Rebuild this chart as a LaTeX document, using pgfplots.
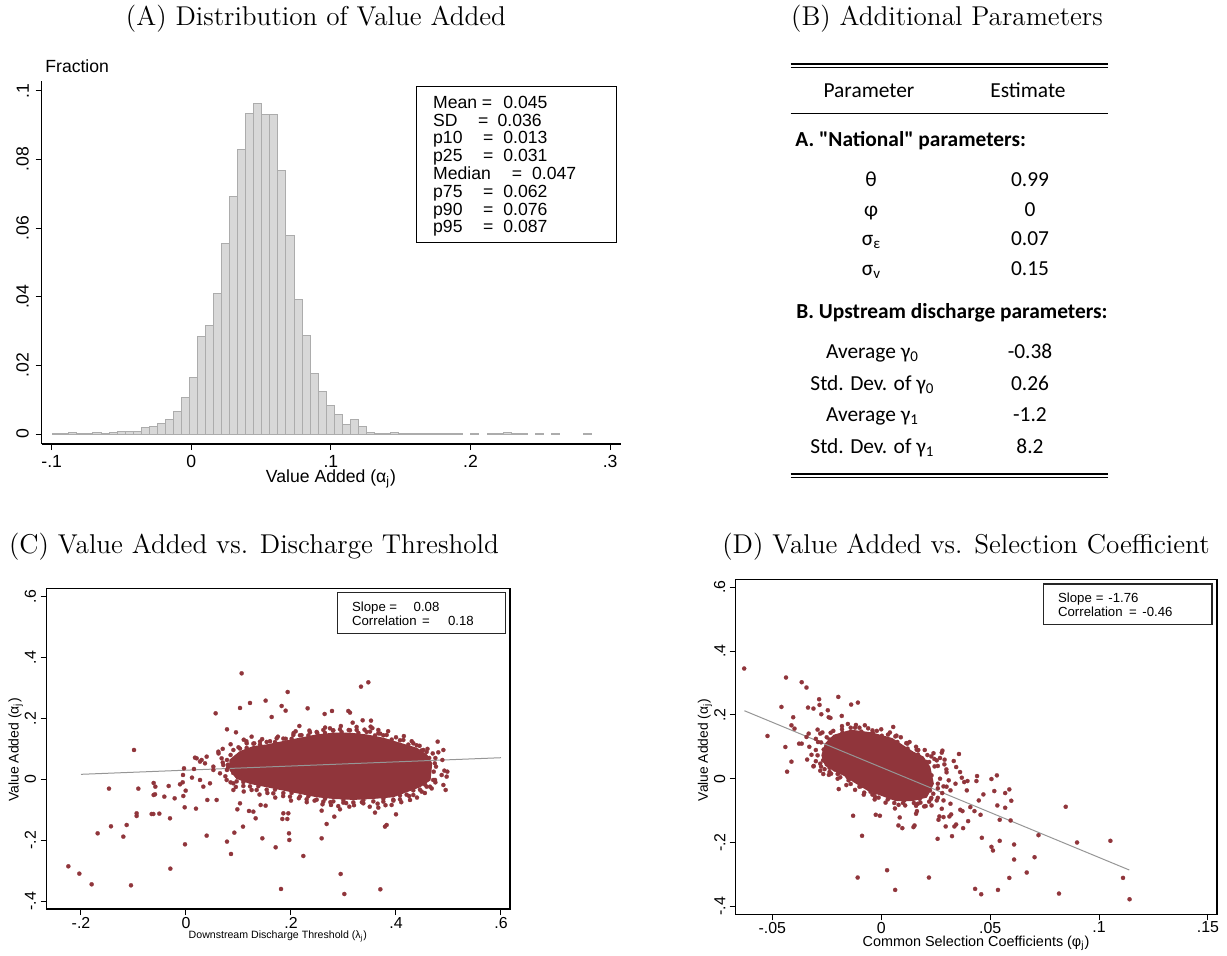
\documentclass[border=0pt]{standalone}
\usepackage{fontspec}
\usepackage{pgfplots}
\pgfplotsset{compat=1.18}
\newfontfamily\arial{Liberation Sans}
\newfontfamily\calibri{Carlito}
\definecolor{cranberry}{RGB}{144,53,59}
\definecolor{histfill}{RGB}{216,216,216}
\definecolor{histline}{RGB}{172,172,172}
\definecolor{fitgray}{RGB}{150,150,150}
\newcommand\tsub[1]{\raisebox{-0.3ex}{\fontsize{7.5}{8}\selectfont #1}}
\pgfplotsset{dots/.style={cranberry, only marks, mark=*, mark size=1.05pt,
  mark options={solid, fill=cranberry, draw=cranberry, line width=0.1pt}}}
\begin{document}
\begin{tikzpicture}
\begin{scope}[x=0.5pt,y=-0.5pt]
\path[use as bounding box] (0,0) rectangle (1227,955);
\end{scope}

% ---------------- Panel A ----------------
\begin{axis}[at={(20.85pt,-222pt)}, anchor=south west, scale only axis,
  width=289.5pt, height=181.65pt,
  xmin=-0.10716, xmax=0.30759, ymin=-0.002913, ymax=0.10291,
  axis x line*=bottom, axis y line*=left,
  axis line style={black, line width=0.6pt, -},
  tick align=outside, major tick length=3pt, tick style={black, line width=0.5pt},
  xtick={-0.1,0,0.1,0.2,0.3}, xticklabels={-.1,0,.1,.2,.3},
  ytick={0,0.02,0.04,0.06,0.08,0.1}, yticklabels={0,.02,.04,.06,.08,.1},
  tick label style={font=\arial\fontsize{8.8}{9}\selectfont, inner sep=0pt},
  xticklabel style={anchor=north, yshift=-2.5pt},
  yticklabel style={xshift=-3.2pt, rotate=90, anchor=south},
]
\addplot[ybar, bar width=0.00576, fill=histfill, draw=histline, line width=0.5pt] coordinates {
(-0.09634,0.0001) (-0.09058,0.0001) (-0.08482,0.0003) (-0.07906,0.0001) (-0.07330,0.0001)
(-0.06754,0.0003) (-0.06178,0.0001) (-0.05602,0.0003) (-0.05026,0.0008) (-0.04450,0.0008)
(-0.03874,0.0008) (-0.03298,0.0018) (-0.02722,0.0022) (-0.02146,0.0031) (-0.01570,0.0043)
(-0.00994,0.0066) (-0.00418,0.0107) (0.00158,0.0165) (0.00734,0.0283) (0.01310,0.0315)
(0.01886,0.0410) (0.02462,0.0555) (0.03038,0.0693) (0.03614,0.0830) (0.04190,0.0934)
(0.04766,0.0963) (0.05342,0.0931) (0.05918,0.0931) (0.06494,0.0768) (0.07070,0.0579)
(0.07646,0.0393) (0.08222,0.0288) (0.08798,0.0177) (0.09374,0.0124) (0.09950,0.0083)
(0.10526,0.0057) (0.11102,0.0028) (0.11678,0.0041) (0.12254,0.0021) (0.12830,0.0004)
(0.13406,0.0002) (0.13982,0.0002) (0.14558,0.0004) (0.15134,0.0002) (0.15710,0.0001)
(0.16286,0.0002) (0.16862,0.0001) (0.17438,0.0001) (0.18014,0.0001) (0.18590,0.0001)
(0.19166,0.0001) (0.20318,0.0001) (0.21470,0.0001) (0.22046,0.0001) (0.22622,0.0003)
(0.23198,0.0001) (0.23774,0.0001) (0.24926,0.0001) (0.26078,0.0001) (0.28382,0.0001)
};
\end{axis}

% ---------------- Panel C ----------------
\begin{axis}[at={(23.35pt,-454.5pt)}, anchor=south west, scale only axis,
  width=231.65pt, height=160.35pt,
  xmin=-0.26533, xmax=0.61714, ymin=-0.42581, ymax=0.62705,
  axis line style={black, line width=0.65pt},
  tick pos=left, tick align=outside, major tick length=3pt, tick style={black, line width=0.5pt},
  xtick={-0.2,0,0.2,0.4,0.6}, xticklabels={-.2,0,.2,.4,.6},
  ytick={-0.4,-0.2,0,0.2,0.4,0.6}, yticklabels={-.4,-.2,0,.2,.4,.6},
  tick label style={font=\arial\fontsize{7.95}{8}\selectfont, inner sep=0pt},
  xticklabel style={anchor=north, yshift=-1pt},
  yticklabel style={xshift=-2.15pt, rotate=90, anchor=south},
]
\addplot[fill=cranberry, draw=cranberry, line width=0.6pt] coordinates {
(0.0838,0.0635) (0.1029,0.0908) (0.1283,0.1072) (0.1537,0.1127) (0.1854,0.1237)
(0.2171,0.1346) (0.2489,0.1455) (0.2806,0.1510) (0.3124,0.1510) (0.3441,0.1455)
(0.3759,0.1346) (0.4076,0.1182) (0.4394,0.1018) (0.4584,0.0799) (0.4679,0.0525)
(0.4648,-0.0022) (0.4457,-0.0241) (0.4203,-0.0405) (0.3949,-0.0569) (0.3568,-0.0624)
(0.3187,-0.0657) (0.2806,-0.0624) (0.2489,-0.0569) (0.2171,-0.0460) (0.1854,-0.0350)
(0.1537,-0.0241) (0.1219,-0.0131) (0.0965,0.0033) (0.0838,0.0306)
} --cycle;
\addplot[dots] coordinates {
(-0.0990,0.0963) (-0.1467,-0.0306) (-0.0908,-0.0306) (-0.0616,-0.0120) (-0.0584,-0.0241)
(-0.0616,-0.0514) (-0.0590,-0.0492) (-0.0330,-0.0219) (-0.0413,-0.0569) (-0.0216,-0.0624)
(-0.0114,-0.0164) (-0.0063,-0.0098) (-0.0038,0.0361) (-0.0057,0.0142) (-0.0051,-0.0547)
(-0.0025,-0.0919) (-0.0006,-0.0372) (-0.0940,-0.1116) (-0.0940,-0.1204) (-0.0654,-0.1138)
(-0.0622,-0.1138) (-0.0508,-0.1127) (-0.0305,-0.1280) (-0.1429,-0.1543) (-0.1130,-0.1499)
(-0.1683,-0.1773) (-0.1194,-0.1882) (-0.0019,-0.2134) (-0.0298,-0.2933) (-0.2241,-0.2856)
(-0.2032,-0.3097) (-0.1797,-0.3447) (-0.1048,-0.3480) (0.0114,0.0055) (0.0171,0.0711)
(0.0203,0.0689) (0.0152,0.0339)
(0.1060,0.3480) (0.3333,0.3042) (0.3473,0.3185) (0.1937,0.2867) (0.1517,0.2583)
(0.1219,0.2506) (0.1029,0.2342) (0.1822,0.2408) (0.1898,0.2254) (0.2317,0.2331)
(0.0565,0.2167) (0.1632,0.2046) (0.2641,0.2145) (0.2781,0.2243) (0.3092,0.2243)
(0.3124,0.2189) (0.3365,0.1937) (0.3524,0.1926) (0.3175,0.1860) (0.3663,0.1620)
(0.3663,0.1510) (0.3517,0.1729) (0.2159,0.1751) (0.2089,0.1576) (0.0781,0.1642)
(0.0952,0.1543) (0.2743,0.1674) (0.4794,0.1237) (0.4902,0.0963) (0.4806,0.0886)
(0.4883,0.0635) (0.4762,0.0416) (0.4921,0.0285) (0.4978,0.0252) (0.4965,0.0088)
(0.4870,0.0142) (0.4902,-0.0186) (0.4946,-0.0350) (0.4743,-0.0022) (0.4648,-0.0241)
(0.4489,-0.0405) (0.4267,-0.0678) (0.4000,-0.1149) (0.3917,-0.0843) (0.3822,-0.1499)
(0.3790,-0.1554) (0.3663,-0.0930) (0.3600,-0.1094) (0.2933,-0.0985) (0.2825,-0.1226)
(0.3111,-0.0897) (0.2762,-0.0843) (0.2584,-0.1029) (0.2679,-0.1466) (0.2584,-0.1937)
(0.2235,-0.2517) (0.1962,-0.1773) (0.1968,-0.1992) (0.1854,-0.1116) (0.1949,-0.1116)
(0.1835,-0.1302) (0.1930,-0.1302) (0.1708,-0.2232) (0.1454,-0.1937) (0.1422,-0.0843)
(0.1517,-0.0865) (0.1283,-0.1062) (0.1327,-0.1280) (0.1200,-0.1040) (0.1086,-0.1554)
(0.0978,-0.0985) (0.0921,-0.1751) (0.0857,-0.2451) (0.0781,-0.2046) (0.0394,-0.1849)
(0.0190,-0.0963) (0.0406,-0.0678) (0.0584,-0.0678) (0.1810,-0.3600) (0.2946,-0.3108)
(0.3016,-0.3765) (0.3702,-0.3611) (0.1029,-0.0788) (0.0902,-0.0350) (0.0775,-0.0022)
(0.0648,0.0197) (0.0521,0.0306) (0.0362,0.0525) (0.0298,0.0635) (0.0457,-0.0131)
(0.0330,-0.0241) (0.0267,-0.0022) (0.0679,0.0689) (0.0711,0.0470) (0.0267,0.0580)
(0.0394,0.0744) (0.0521,0.0416) (0.0616,0.0908) (0.1100,0.1300) (0.1250,0.1400)
(0.0850,0.1150) (0.0700,0.1000) (0.0620,0.0850)
(0.0902,0.0963) (0.1156,0.1182) (0.1410,0.1237) (0.1727,0.1346) (0.2044,0.1455)
(0.2362,0.1543) (0.2616,0.1620) (0.2933,0.1642) (0.3251,0.1620) (0.3505,0.1565)
(0.3822,0.1455) (0.4140,0.1291) (0.4330,0.1182) (0.4521,0.0963)
(0.4584,-0.0241) (0.4330,-0.0514) (0.4076,-0.0657) (0.3759,-0.0733) (0.3378,-0.0788)
(0.2997,-0.0766) (0.2616,-0.0733) (0.2298,-0.0657) (0.1981,-0.0569) (0.1663,-0.0460)
(0.1346,-0.0350) (0.1092,-0.0219) (0.0902,-0.0131)
(0.100,0.105) (0.115,0.125) (0.130,0.118) (0.145,0.132) (0.160,0.125) (0.175,0.140)
(0.190,0.133) (0.205,0.152) (0.220,0.145) (0.235,0.160) (0.250,0.152) (0.265,0.170)
(0.280,0.160) (0.295,0.175) (0.310,0.162) (0.325,0.172) (0.340,0.163) (0.355,0.168)
(0.370,0.150) (0.385,0.158) (0.400,0.138) (0.415,0.142) (0.430,0.125) (0.445,0.110)
(0.460,0.100) (0.470,0.085) (0.475,0.070)
(0.475,-0.010) (0.468,-0.030) (0.455,-0.045) (0.440,-0.060) (0.425,-0.055) (0.410,-0.075)
(0.395,-0.070) (0.380,-0.085) (0.365,-0.080) (0.350,-0.090) (0.335,-0.075) (0.320,-0.085)
(0.305,-0.078) (0.290,-0.088) (0.275,-0.075) (0.260,-0.082) (0.245,-0.070) (0.230,-0.075)
(0.215,-0.062) (0.200,-0.070) (0.185,-0.055) (0.170,-0.060) (0.155,-0.045) (0.140,-0.050)
(0.125,-0.035) (0.110,-0.040) (0.095,-0.025) (0.085,-0.010) (0.075,0.010) (0.080,0.040)
(0.070,0.055) (0.085,0.080) (0.090,0.060)
(0.1029,0.1008) (0.1283,0.1172) (0.1537,0.1227) (0.1854,0.1337) (0.2171,0.1446)
(0.2489,0.1555) (0.2806,0.1610) (0.3124,0.1610) (0.3441,0.1555) (0.3759,0.1446)
(0.4076,0.1282) (0.4394,0.1118) (0.4584,0.0899) (0.4739,0.0525) (0.4718,0.0250)
(0.4708,-0.0022) (0.4457,-0.0341) (0.4203,-0.0505) (0.3949,-0.0669) (0.3568,-0.0724)
(0.3187,-0.0757) (0.2806,-0.0724) (0.2489,-0.0669) (0.2171,-0.0560) (0.1854,-0.0450)
(0.1537,-0.0341) (0.1219,-0.0231) (0.0965,-0.0067) (0.0780,0.0306) (0.0780,0.0635)
(0.0800,0.0480)
(0.1156,0.1030) (0.1410,0.1140) (0.1695,0.1222) (0.2012,0.1331) (0.2330,0.1441)
(0.2647,0.1523) (0.2965,0.1550) (0.3283,0.1523) (0.3600,0.1441) (0.3918,0.1304)
(0.4235,0.1140) (0.4489,0.0948) (0.4632,0.0702)
(0.4553,-0.0171) (0.4330,-0.0363) (0.4076,-0.0527) (0.3759,-0.0637) (0.3378,-0.0681)
(0.2997,-0.0681) (0.2648,-0.0637) (0.2330,-0.0555) (0.2012,-0.0445) (0.1696,-0.0336)
(0.1378,-0.0226) (0.1092,-0.0089) (0.0900,0.0210)
};
\addplot[fitgray, line width=0.5pt] coordinates {(-0.2,0.0164) (0.6,0.0709)};
\end{axis}

% ---------------- Panel D ----------------
\begin{axis}[at={(367.85pt,-457.15pt)}, anchor=south west, scale only axis,
  width=240.65pt, height=167.5pt,
  xmin=-0.06679, xmax=0.15414, ymin=-0.42521, ymax=0.62527,
  axis line style={black, line width=0.65pt},
  tick pos=left, tick align=outside, major tick length=3pt, tick style={black, line width=0.5pt},
  xtick={-0.05,0,0.05,0.1,0.15}, xticklabels={-.05,0,.05,.1,.15},
  ytick={-0.4,-0.2,0,0.2,0.4,0.6}, yticklabels={-.4,-.2,0,.2,.4,.6},
  tick label style={font=\arial\fontsize{7.95}{8}\selectfont, inner sep=0pt},
  xticklabel style={anchor=north, yshift=-0.65pt},
  yticklabel style={xshift=-2pt, rotate=90, anchor=south},
]
\addplot[fill=cranberry, draw=cranberry, line width=0.6pt] coordinates {
(-0.0256,0.1099) (-0.0217,0.1361) (-0.0138,0.1518) (-0.0044,0.1435) (0.0050,0.1257)
(0.0097,0.1047) (0.0145,0.0838) (0.0192,0.0681) (0.0223,0.0366) (0.0239,-0.0157)
(0.0208,-0.0576) (0.0145,-0.0681) (0.0066,-0.0681) (0.0003,-0.0524) (-0.0060,-0.0366)
(-0.0123,-0.0105) (-0.0170,0.0105) (-0.0217,0.0262) (-0.0256,0.0419) (-0.0272,0.0733)
} --cycle;
\addplot[dots] coordinates {
(-0.0629,0.3455) (-0.0437,0.3173) (-0.0365,0.3026) (-0.0343,0.2859) (-0.0458,0.2251)
(-0.0522,0.1340) (-0.0404,0.1927) (-0.0440,0.0995) (-0.0412,0.0534) (-0.0432,0.0220)
(-0.0336,0.2230) (-0.0311,0.2199) (-0.0285,0.2492) (-0.0283,0.2314) (-0.0275,0.2021)
(-0.0245,0.2147) (-0.0241,0.1927) (-0.0233,0.1906) (-0.0197,0.2565) (-0.0181,0.1969)
(-0.0153,0.1717) (-0.0138,0.2325) (-0.0107,0.2387) (-0.0116,0.1686) (-0.0075,0.1675)
(-0.0039,0.1445) (0.0055,0.1623) (0.0031,0.1382) (-0.0398,0.1571) (-0.0412,0.1675)
(-0.0377,0.1099) (-0.0365,0.1099) (-0.0343,0.1309) (-0.0333,0.1414) (-0.0292,0.1539)
(-0.0280,0.1414) (-0.0311,0.0387) (-0.0280,0.0471) (-0.0266,0.0147) (-0.0230,0.0157)
(-0.0214,0.0293) (-0.0195,-0.0325) (-0.0129,-0.1162) (-0.0025,-0.1131) (-0.0006,-0.1162)
(-0.0088,-0.1791) (-0.0108,-0.3099) (0.0027,-0.2869) (0.0064,-0.3487) (0.0063,-0.0932)
(0.0085,-0.1215) (0.0079,-0.1466) (0.0097,-0.1550) (0.0153,-0.1466) (0.0148,-0.1518)
(0.0160,-0.1099) (0.0164,-0.1016) (0.0197,-0.0869) (0.0204,-0.0859) (0.0219,-0.3099)
(0.0259,-0.1885) (0.0263,-0.1288) (0.0267,-0.1183) (0.0278,-0.0942) (0.0286,-0.1204)
(0.0313,-0.1183) (0.0321,-0.1120) (0.0325,-0.1801) (0.0336,-0.1497) (0.0344,-0.1435)
(0.0296,-0.1497) (0.0376,-0.1550) (0.0363,-0.0974) (0.0373,-0.1016) (0.0399,-0.1330)
(0.0409,-0.0890) (0.0428,-0.1016) (0.0456,-0.1131) (0.0448,-0.0681) (0.0469,-0.0492)
(0.0506,-0.0010) (0.0531,0.0105) (0.0519,-0.0387) (0.0533,-0.0838) (0.0544,-0.1288)
(0.0569,-0.0450) (0.0588,-0.0335) (0.0597,-0.0691) (0.0594,-0.1309) (0.0569,-0.0911)
(0.0462,-0.1853) (0.0506,-0.2136) (0.0513,-0.2251) (0.0544,-0.1948) (0.0610,-0.2063)
(0.0610,-0.2534) (0.0588,-0.3110) (0.0668,-0.2942) (0.0704,-0.2461) (0.0722,-0.1770)
(0.0847,-0.0880) (0.0899,-0.2000) (0.1052,-0.1948) (0.1110,-0.3110) (0.1140,-0.3780)
(0.0816,-0.3602) (0.0536,-0.3487) (0.0459,-0.3623) (0.0431,-0.3455)
(0.0220,0.0524) (0.0204,0.0387) (0.0244,0.0618) (0.0255,0.0576) (0.0281,0.0880)
(0.0278,0.0817) (0.0291,0.0597) (0.0299,0.0293) (0.0333,0.0555) (0.0357,0.0775)
(0.0344,0.0366) (0.0362,0.0209) (0.0370,0.0031) (0.0381,-0.0105) (0.0396,-0.0073)
(0.0440,0.0084) (0.0437,-0.0073) (0.0393,-0.0366) (0.0341,-0.0157) (0.0318,-0.0366)
(0.0286,-0.0241) (0.0255,-0.0681) (0.0239,-0.0471) (0.0286,-0.0681) (0.0318,-0.0785)
(0.0231,-0.0838) (0.0168,-0.0785) (0.0110,-0.0838) (0.0022,-0.0157) (-0.0049,-0.0408)
(-0.0028,-0.0576) (-0.0154,0.0052) (-0.0267,0.0576) (-0.0248,0.0681)
(-0.0300,0.0900) (-0.0290,0.1150) (-0.0250,0.1300) (-0.0180,0.1550) (-0.0100,0.1600)
(-0.0020,0.1500) (0.0070,0.1350) (0.0120,0.1100) (0.0170,0.0900) (0.0230,0.0700)
(0.0260,0.0400) (0.0270,0.0000) (0.0260,-0.0300) (0.0230,-0.0600) (0.0180,-0.0750)
(0.0100,-0.0760) (0.0030,-0.0650) (-0.0040,-0.0500) (-0.0100,-0.0250) (-0.0150,-0.0050)
(-0.0200,0.0150) (-0.0260,0.0300) (-0.0300,0.0550)
(-0.032,0.075) (-0.033,0.100) (-0.030,0.125) (-0.027,0.145) (-0.022,0.150) (-0.018,0.165)
(-0.012,0.160) (-0.006,0.158) (0.000,0.155) (0.004,0.145) (0.009,0.130) (0.013,0.115)
(0.016,0.100) (0.020,0.090) (0.024,0.080) (0.027,0.065) (0.029,0.045) (0.030,0.020)
(0.031,-0.005) (0.030,-0.025) (0.028,-0.045) (0.026,-0.060) (0.022,-0.072) (0.016,-0.085)
(0.008,-0.082) (0.002,-0.075) (-0.003,-0.065) (-0.008,-0.050) (-0.012,-0.035) (-0.016,-0.020)
(-0.020,0.000) (-0.024,0.012) (-0.028,0.025) (-0.031,0.040) (-0.034,0.060)
(-0.0276,0.1139) (-0.0232,0.1441) (-0.0140,0.1598) (-0.0040,0.1515) (0.0065,0.1327)
(0.0115,0.1117) (0.0163,0.0908) (0.0212,0.0741) (0.0245,0.0386) (0.0260,-0.0157)
(0.0228,-0.0636) (0.0150,-0.0761) (0.0060,-0.0761) (-0.0012,-0.0594) (-0.0078,-0.0436)
(-0.0140,-0.0165) (-0.0188,0.0045) (-0.0237,0.0212) (-0.0276,0.0379) (-0.0292,0.0733)
(-0.0237,0.1230) (-0.0178,0.1440) (-0.0091,0.1477) (0.0003,0.1346) (0.0074,0.1152)
(0.0121,0.0943) (0.0169,0.0760) (0.0208,0.0524) (0.0231,0.0105) (0.0224,-0.0367)
(0.0177,-0.0629) (0.0106,-0.0681) (0.0035,-0.0603) (-0.0029,-0.0445) (-0.0092,-0.0236)
(-0.0147,0.0000) (-0.0194,0.0184) (-0.0237,0.0341) (-0.0264,0.0576) (-0.0264,0.0916)
};
\addplot[fitgray, line width=0.5pt] coordinates {(-0.0628,0.2132) (0.1139,-0.2863)};
\end{axis}

% ---------------- annotations ----------------
\begin{scope}[x=0.5pt,y=-0.5pt]
% titles
\node[font=\fontsize{13.6}{15}\selectfont, anchor=base, inner sep=0] at (316,25) {(A) Distribution of Value Added};
\node[font=\fontsize{13.6}{15}\selectfont, anchor=base, inner sep=0] at (947,25) {(B) Additional Parameters};
\node[font=\fontsize{13.6}{15}\selectfont, anchor=base, inner sep=0] at (254,553.5) {(C) Value Added vs. Discharge Threshold};
\node[font=\fontsize{13.6}{15}\selectfont, anchor=base, inner sep=0] at (966,553.5) {(D) Value Added vs. Selection Coefficient};
% panel A labels
\node[font=\arial\fontsize{8.8}{9}\selectfont, anchor=base west, inner sep=0] at (45,72.3) {Fraction};
\node[font=\arial\fontsize{8.8}{9}\selectfont, inner sep=0] at (331,479) {Value Added (α\textsubscript{j})};
\draw[black, line width=0.5pt] (416.3,86) rectangle (616.1,242.3);
\begin{scope}[every node/.style={font=\arial\fontsize{8.8}{9}\selectfont, anchor=base west, inner sep=0}]
\node at (432.8,108.3) {Mean}; \node at (481.5,108.3) {=}; \node at (503,108.3) {0.045};
\node at (432.8,126.1) {SD}; \node at (477.6,126.1) {=}; \node at (497.2,126.1) {0.036};
\node at (432.8,143.9) {p10}; \node at (482.6,143.9) {=}; \node at (503,143.9) {0.013};
\node at (432.8,161.7) {p25}; \node at (482.6,161.7) {=}; \node at (503,161.7) {0.031};
\node at (432.8,179.5) {Median}; \node at (511.4,179.5) {=}; \node at (531.7,179.5) {0.047};
\node at (432.8,197.3) {p75}; \node at (482.6,197.3) {=}; \node at (503,197.3) {0.062};
\node at (432.8,215.1) {p90}; \node at (482.6,215.1) {=}; \node at (503,215.1) {0.076};
\node at (432.8,232.9) {p95}; \node at (482.6,232.9) {=}; \node at (503,232.9) {0.087};
\end{scope}
% panel C labels
\node[font=\arial\fontsize{7}{7}\selectfont, rotate=90, inner sep=0] at (15.7,750) {Value Added (α\textsubscript{j})};
\node[font=\arial\fontsize{5.3}{6}\selectfont, inner sep=0] at (277.8,936.7) {Downstream Discharge Threshold (λ\textsubscript{j})};
\draw[black!85, line width=0.6pt] (337.3,592.7) rectangle (505.7,633.3);
\begin{scope}[every node/.style={font=\arial\fontsize{6.6}{7}\selectfont, anchor=base west, inner sep=0}]
\node at (351.7,611.2) {Slope}; \node at (389,611.2) {=}; \node at (413.3,611.2) {0.08};
\node at (351.7,625.9) {Correlation}; \node at (421.7,625.9) {=}; \node at (447.7,625.9) {0.18};
\end{scope}
% panel D labels
\node[font=\arial\fontsize{6.9}{7}\selectfont, rotate=90, inner sep=0] at (705,750) {Value Added (α\textsubscript{j})};
\node[font=\arial\fontsize{7.2}{8}\selectfont, inner sep=0] at (976,943.3) {Common Selection Coefficients (φ\textsubscript{j})};
\draw[black!85, line width=0.6pt] (1043.7,584) rectangle (1212,624.3);
\begin{scope}[every node/.style={font=\arial\fontsize{6.6}{7}\selectfont, anchor=base west, inner sep=0}]
\node at (1057.7,602.9) {Slope}; \node at (1095.5,602.9) {=}; \node at (1108,602.9) {-1.76};
\node at (1057.7,616.9) {Correlation}; \node at (1128.7,616.9) {=}; \node at (1142,616.9) {-0.46};
\end{scope}
% panel B table
\draw[black, line width=0.7pt] (790.7,64) -- (1108.3,64);
\draw[black, line width=0.7pt] (790.7,67.7) -- (1108.3,67.7);
\draw[black, line width=0.75pt] (790.7,113.3) -- (1108.3,113.3);
\draw[black, line width=0.7pt] (790.7,474) -- (1108.3,474);
\draw[black, line width=0.7pt] (790.7,477.7) -- (1108.3,477.7);
\begin{scope}[every node/.style={font=\calibri\fontsize{10.7}{12}\selectfont, anchor=base, inner sep=0}]
\node at (869,97) {Parameter}; \node at (1028,97) {Estimate};
\node[anchor=base west, font=\calibri\bfseries\fontsize{10.7}{12}\selectfont] at (795,146.7) {A. "National" parameters:};
\node at (871,186.7) {θ}; \node at (1030,186.7) {0.99};
\node at (871,216) {φ}; \node at (1030,216) {0};
\node at (871,245) {σ\tsub{ε}}; \node at (1030,245) {0.07};
\node at (871,275) {σ\tsub{v}}; \node at (1030,275) {0.15};
\node[anchor=base west, font=\calibri\bfseries\fontsize{10.7}{12}\selectfont] at (796,318.3) {B. Upstream discharge parameters:};
\node at (872,358.3) {Average γ\tsub{0}}; \node at (1030,358.3) {-0.38};
\node at (872,390) {Std. Dev. of γ\tsub{0}}; \node at (1030,390) {0.26};
\node at (872,421.7) {Average γ\tsub{1}}; \node at (1030,421.7) {-1.2};
\node at (872,453.3) {Std. Dev. of γ\tsub{1}}; \node at (1030,453.3) {8.2};
\end{scope}
\end{scope}
\end{tikzpicture}
\end{document}
